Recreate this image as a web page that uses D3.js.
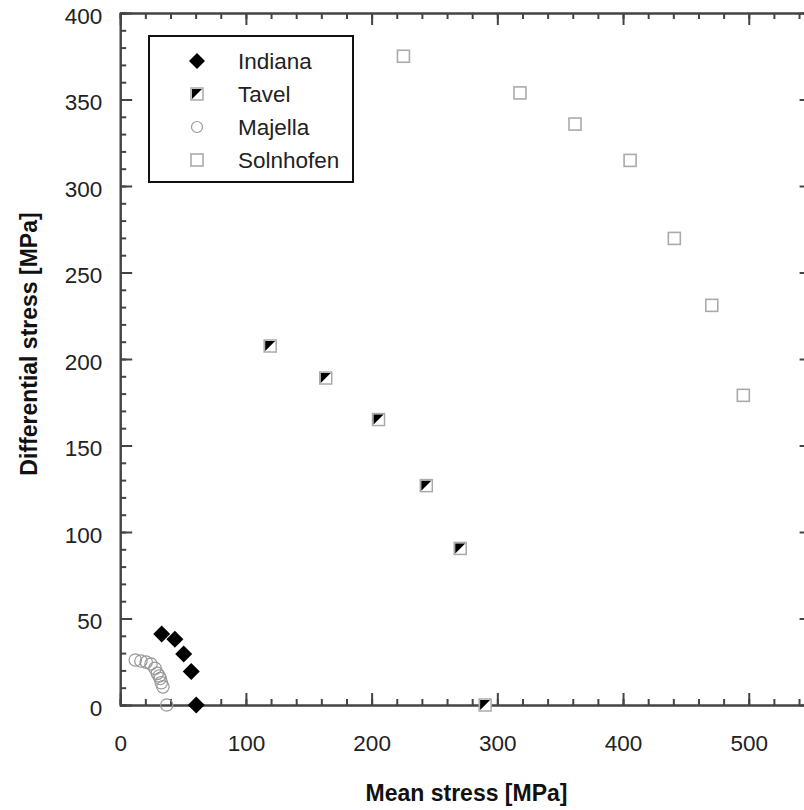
<!DOCTYPE html>
<html>
<head>
<meta charset="utf-8">
<script src="https://cdn.jsdelivr.net/npm/d3@7"></script>
<style>
  body { margin: 0; background: #fff; }
  svg { display: block; font-family: "Liberation Sans", Arial, sans-serif; }
  .axis path, .axis line { stroke: #444; stroke-width: 2px; }
  .axis text { fill: #222; font-size: 22.5px; font-family: "Liberation Sans", Arial, sans-serif; }
</style>
</head>
<body>
<svg id="chart" width="804" height="810"></svg>
<script>
// data: [mean stress, differential stress] in MPa
var indiana = [[33, 41], [43.5, 38], [50.5, 29.5], [56.5, 19.3], [60.5, 0]];
var tavel = [[119.3, 207.5], [163.5, 189], [205.5, 165], [243.5, 126.8], [270.5, 90.5], [290.3, 0]];
var majella = [[12, 26], [16.5, 25.4], [20.7, 24.8], [24.5, 23.7], [27.7, 21.2], [29.5, 18.3],
               [31, 16.8], [31.8, 15.3], [32.7, 12.9], [34, 10.5], [37, 0]];
var solnhofen = [[225.3, 375], [318, 353.8], [361.8, 335.8], [405.6, 314.8], [440.8, 269.7],
                 [470.6, 231], [495.7, 179]];
var seriesNames = ["Indiana", "Tavel", "Majella", "Solnhofen"];
var xMajor = [0, 100, 200, 300, 400, 500];
var yMajor = [0, 50, 100, 150, 200, 250, 300, 350, 400];

var svg = d3.select("#chart");
var x = d3.scaleLinear().domain([0, 550]).range([120.2, 811.6]);
var y = d3.scaleLinear().domain([0, 400]).range([705, 13]);
var xMinor = d3.range(0, 551, 20);
var yMinor = d3.range(0, 401, 10);

// minor ticks
svg.append("g").attr("class", "axis").attr("transform", "translate(0," + y(0) + ")")
  .call(d3.axisBottom(x).tickValues(xMinor).tickSize(-6).tickFormat(""));
svg.append("g").attr("class", "axis").attr("transform", "translate(0," + y(400) + ")")
  .call(d3.axisTop(x).tickValues(xMinor).tickSize(-6).tickFormat(""));
svg.append("g").attr("class", "axis").attr("transform", "translate(" + x(0) + ",0)")
  .call(d3.axisLeft(y).tickValues(yMinor).tickSize(-6).tickFormat(""));
svg.append("g").attr("class", "axis").attr("transform", "translate(" + x(550) + ",0)")
  .call(d3.axisRight(y).tickValues(yMinor).tickSize(-6).tickFormat(""));

// major ticks + labels
var xAxis = svg.append("g").attr("class", "axis").attr("transform", "translate(0," + y(0) + ")")
  .call(d3.axisBottom(x).tickValues(xMajor).tickSize(-12).tickPadding(30).tickSizeOuter(0));
xAxis.selectAll("text").attr("dy", "0.71em");
svg.append("g").attr("class", "axis").attr("transform", "translate(0," + y(400) + ")")
  .call(d3.axisTop(x).tickValues(xMajor).tickSize(-12).tickFormat("").tickSizeOuter(0));
var yAxis = svg.append("g").attr("class", "axis").attr("transform", "translate(" + x(0) + ",0)")
  .call(d3.axisLeft(y).tickValues(yMajor).tickSize(-12).tickPadding(18).tickSizeOuter(0));
yAxis.selectAll("text").attr("dy", "0.45em");
svg.append("g").attr("class", "axis").attr("transform", "translate(" + x(550) + ",0)")
  .call(d3.axisRight(y).tickValues(yMajor).tickSize(-12).tickFormat("").tickSizeOuter(0));

// marker painters
function diamond(g, r) {
  g.append("path").attr("d", "M0," + (-r) + "L" + r + ",0L0," + r + "L" + (-r) + ",0Z").attr("fill", "#000");
}
function halfSquare(g, s) {
  var h = s / 2;
  g.append("rect").attr("x", -h).attr("y", -h).attr("width", s).attr("height", s)
    .attr("fill", "#fff").attr("stroke", "#aaa").attr("stroke-width", 1.5);
  g.append("path").attr("d", "M" + (-h + 1) + "," + (-h + 1) + "L" + (h - 1) + "," + (-h + 1) + "L" + (-h + 1) + "," + (h - 1) + "Z")
    .attr("fill", "#000");
}
function openCircle(g, r) {
  g.append("circle").attr("r", r).attr("fill", "none").attr("stroke", "#999").attr("stroke-width", 1.2);
}
function openSquare(g, s) {
  g.append("rect").attr("x", -s / 2).attr("y", -s / 2).attr("width", s).attr("height", s)
    .attr("fill", "#fff").attr("stroke", "#aaa").attr("stroke-width", 1.6);
}

function plot(data, painter, size) {
  svg.append("g").selectAll("g").data(data).enter().append("g")
    .attr("transform", function(d) { return "translate(" + x(d[0]) + "," + y(d[1]) + ")"; })
    .each(function() { painter(d3.select(this), size); });
}
plot(majella, openCircle, 6.2);
plot(solnhofen, openSquare, 12);
plot(tavel, halfSquare, 12);
plot(indiana, diamond, 8.5);

// legend
var legend = svg.append("g");
legend.append("rect").attr("x", 149).attr("y", 36).attr("width", 204).attr("height", 146)
  .attr("fill", "#fff").attr("stroke", "#111").attr("stroke-width", 2);
var painters = [[diamond, 8], [halfSquare, 12], [openCircle, 5.5], [openSquare, 12]];
var rowY = [61, 94, 127, 160];
seriesNames.forEach(function(name, i) {
  var row = legend.append("g").attr("transform", "translate(197," + rowY[i] + ")");
  painters[i][0](row, painters[i][1]);
  legend.append("text").attr("x", 238).attr("y", rowY[i]).attr("dy", "0.36em")
    .attr("font-size", "22.5px").attr("fill", "#222").text(name);
});

// axis titles
svg.append("text").attr("x", 466.5).attr("y", 801)
  .attr("text-anchor", "middle").attr("font-size", "23px").attr("font-weight", "bold")
  .attr("fill", "#111").text("Mean stress [MPa]");
svg.append("text").attr("transform", "translate(37,344) rotate(-90)")
  .attr("text-anchor", "middle").attr("font-size", "23px").attr("font-weight", "bold")
  .attr("fill", "#111").text("Differential stress [MPa]");
</script>
</body>
</html>
